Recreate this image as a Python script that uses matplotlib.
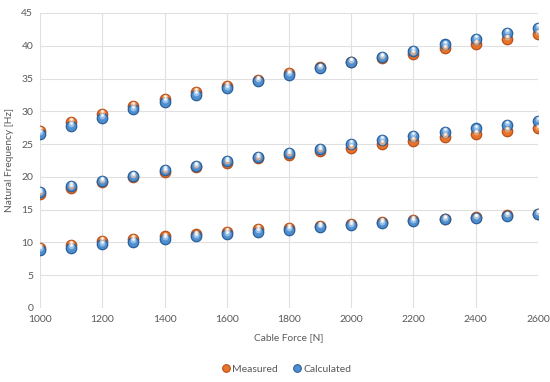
import matplotlib
matplotlib.use("Agg")
import matplotlib.pyplot as plt
from matplotlib.lines import Line2D
from matplotlib.transforms import offset_copy

plt.rcParams['font.family'] = ['Lato', 'DejaVu Sans']

force = [1000, 1100, 1200, 1300, 1400, 1500, 1600, 1700, 1800, 1900,
         2000, 2100, 2200, 2300, 2400, 2500, 2600]

meas_mode1 = [9.2, 9.6, 10.2, 10.5, 10.9, 11.2, 11.6, 12.0, 12.2, 12.5,
              12.8, 13.1, 13.4, 13.6, 13.8, 14.1, 14.3]
calc_mode1 = [8.8, 9.2, 9.7, 10.1, 10.5, 10.9, 11.2, 11.6, 11.9, 12.3,
              12.6, 12.9, 13.2, 13.5, 13.7, 14.0, 14.3]

meas_mode2 = [17.4, 18.3, 19.2, 20.0, 20.8, 21.5, 22.1, 22.8, 23.4, 24.0,
              24.4, 25.0, 25.5, 26.1, 26.6, 27.0, 27.4]
calc_mode2 = [17.7, 18.6, 19.4, 20.2, 21.0, 21.7, 22.4, 23.1, 23.7, 24.3,
              25.0, 25.6, 26.2, 26.8, 27.4, 27.9, 28.5]

meas_mode3 = [27.0, 28.4, 29.6, 30.8, 31.9, 33.0, 33.9, 34.8, 35.8, 36.7,
              37.5, 38.1, 38.8, 39.6, 40.3, 41.1, 41.8]
calc_mode3 = [26.5, 27.8, 29.0, 30.3, 31.4, 32.5, 33.5, 34.6, 35.6, 36.6,
              37.5, 38.3, 39.2, 40.2, 41.0, 42.0, 42.7]

series_labels = ["Measured", "Calculated"]
orange = "#E8732A"
orange_dark = "#B9501A"
orange_light = "#F6B27E"
blue = "#4F8FD0"
blue_dark = "#2A5F9A"
blue_light = "#A9CDEF"
text_col = "#595959"

fig = plt.figure(figsize=(5.5, 3.82), dpi=100)
ax = fig.add_axes([0.073, 0.194, 0.905, 0.772])

hl_shift = offset_copy(ax.transData, fig=fig, x=0, y=1.3, units='points')
hl_shift2 = offset_copy(ax.transData, fig=fig, x=0, y=2.0, units='points')


def sphere(x, y, face, edge, light):
    ax.plot(x, y, linestyle='none', marker='o', markersize=7.5,
            markerfacecolor=face, markeredgecolor=edge, markeredgewidth=0.9, zorder=3)
    ax.plot(x, y, linestyle='none', marker='o', markersize=4.2,
            markerfacecolor=light, markeredgecolor='none', alpha=0.8, zorder=4,
            transform=hl_shift)
    ax.plot(x, y, linestyle='none', marker='o', markersize=2.0,
            markerfacecolor='white', markeredgecolor='none', alpha=0.85, zorder=5,
            transform=hl_shift2)


for m in (meas_mode1, meas_mode2, meas_mode3):
    sphere(force, m, orange, orange_dark, orange_light)
for c in (calc_mode1, calc_mode2, calc_mode3):
    sphere(force, c, blue, blue_dark, blue_light)

ax.set_xlim(1000, 2600)
ax.set_ylim(0, 45)
ax.set_xticks(range(1000, 2601, 200))
ax.set_yticks(range(0, 46, 5))
ax.grid(True, color="#E0E0E0", linewidth=0.8)
ax.set_axisbelow(True)
for s in ax.spines.values():
    s.set_visible(False)
ax.tick_params(length=0, colors=text_col, labelsize=7.5, pad=5)
ax.set_xlabel("Cable Force [N]", color=text_col, fontsize=7.3, labelpad=7)
ax.set_ylabel("Natural Frequency [Hz]", color=text_col, fontsize=7.3, labelpad=5)

handles = [
    Line2D([], [], linestyle='none', marker='o', markersize=5.5,
           markerfacecolor=orange, markeredgecolor=orange_dark, markeredgewidth=0.8),
    Line2D([], [], linestyle='none', marker='o', markersize=5.5,
           markerfacecolor=blue, markeredgecolor=blue_dark, markeredgewidth=0.8),
]
leg = fig.legend(handles, series_labels, loc='center', bbox_to_anchor=(0.52, 0.034),
                 ncol=2, frameon=False, fontsize=7.5, handletextpad=0.1,
                 columnspacing=1.4, handlelength=1.0)
for t in leg.get_texts():
    t.set_color(text_col)

fig.savefig("out.png", dpi=100)
